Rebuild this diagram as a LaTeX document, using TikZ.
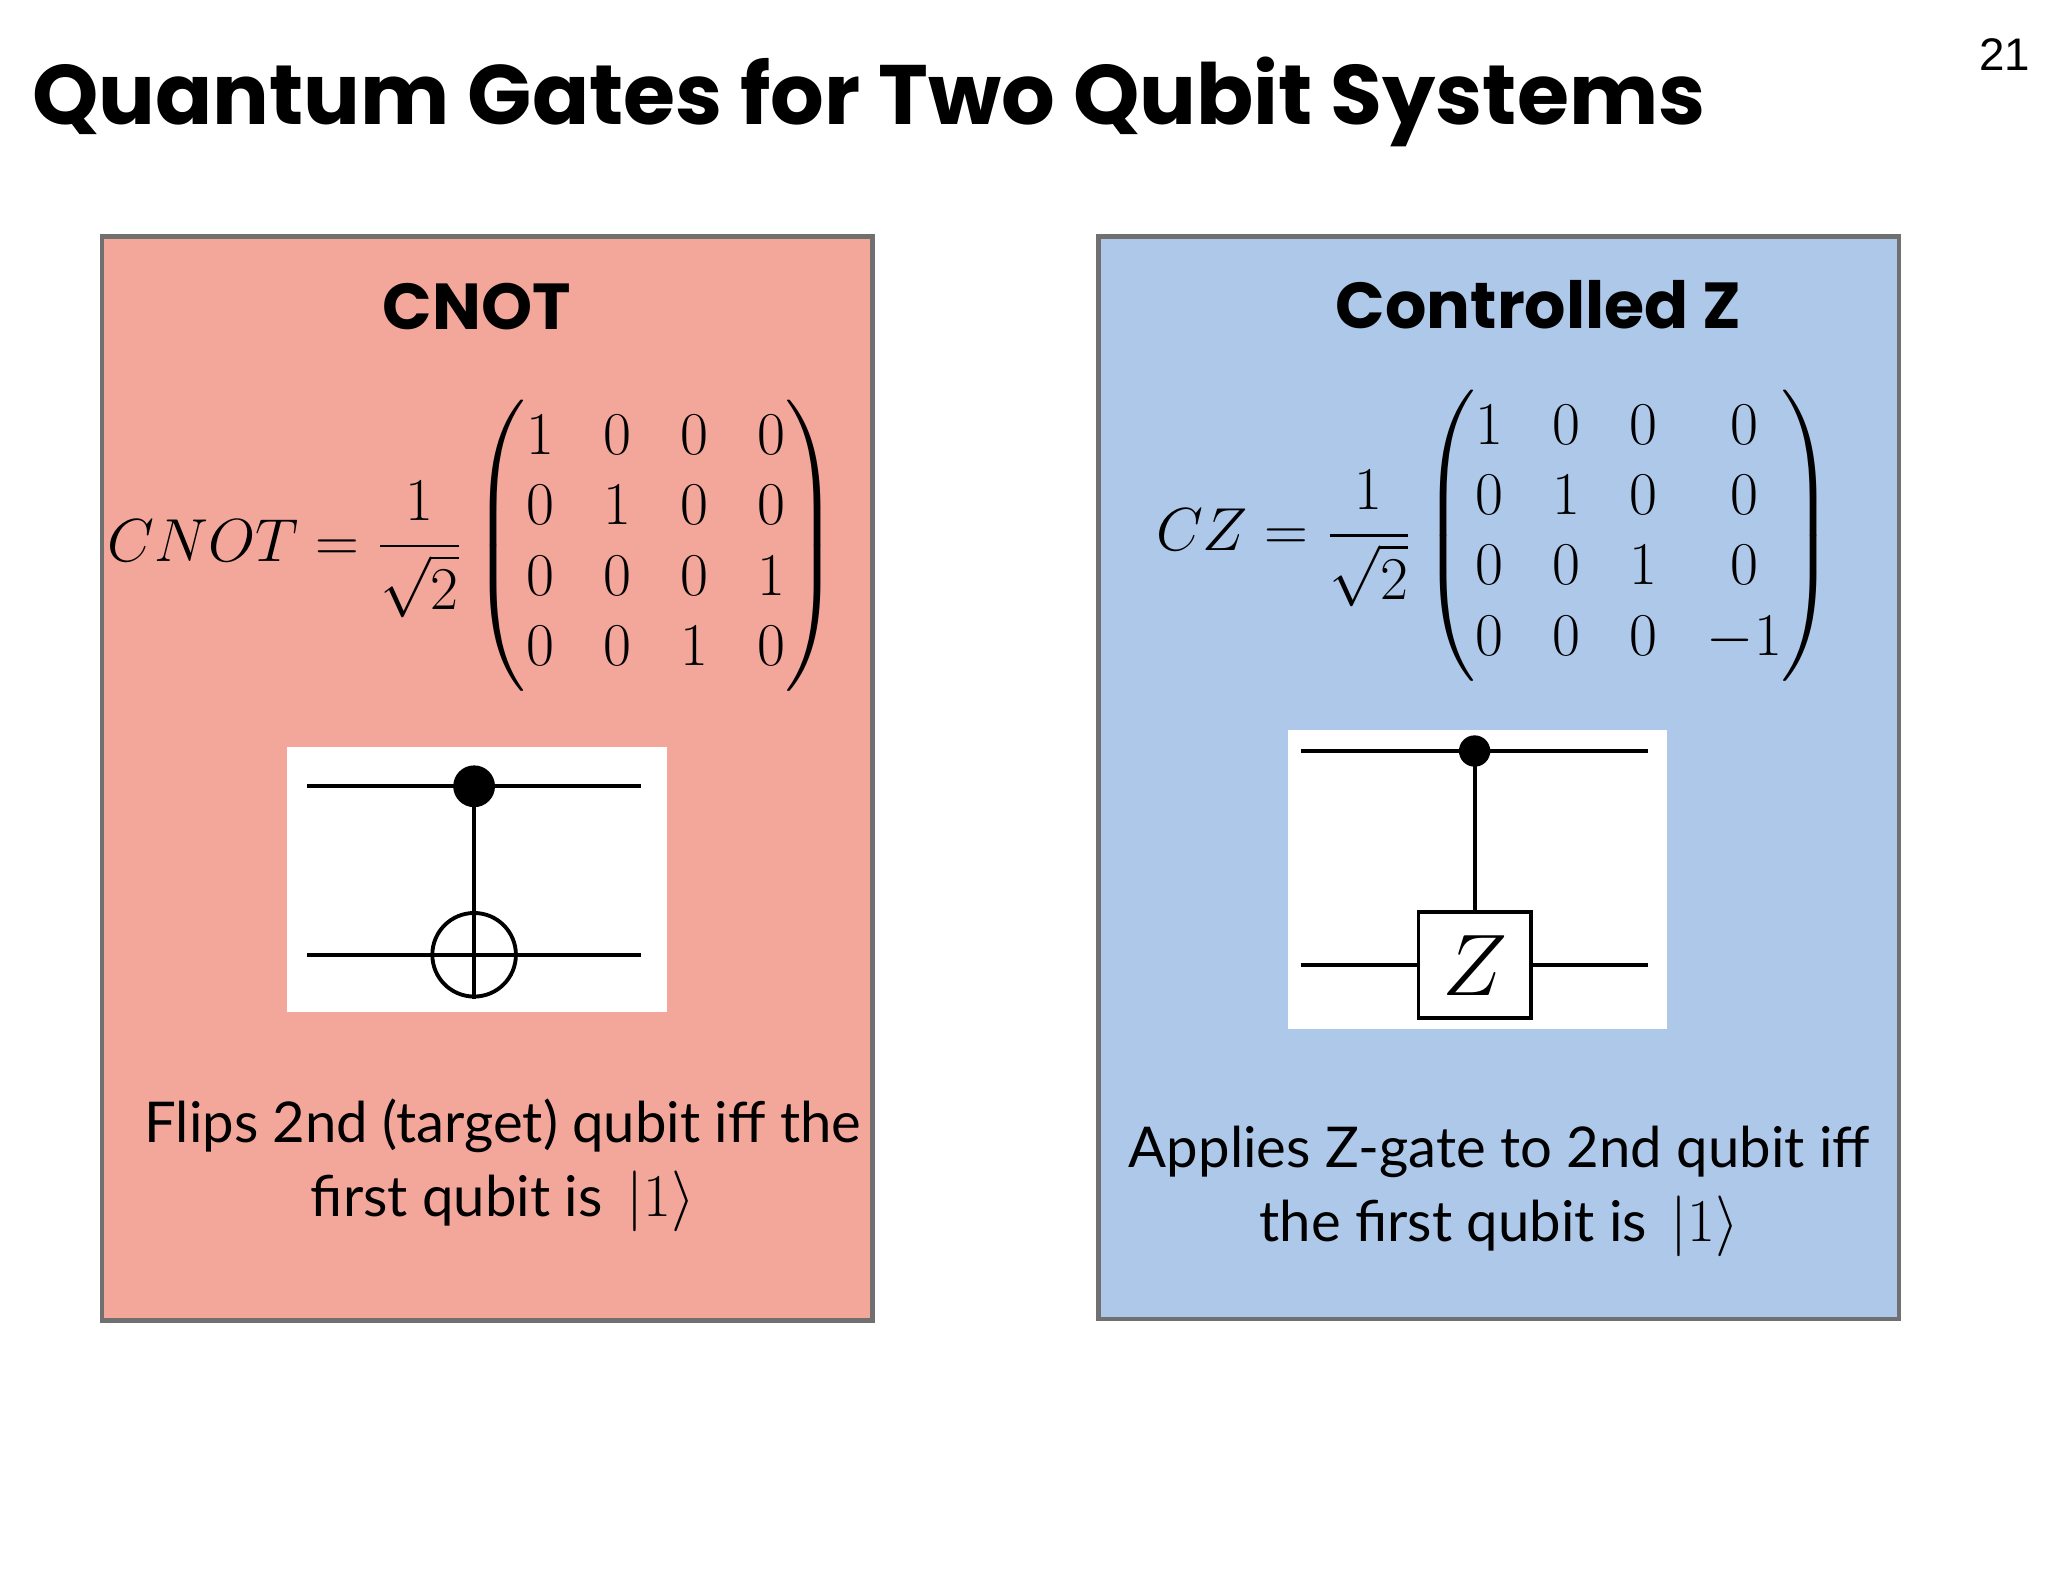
\documentclass[tikz,border=0pt]{standalone}
\usepackage{amsmath}
\usepackage{fontspec}
\setmainfont{Lato}
\newfontfamily\heavy{Poppins}[UprightFont=* Bold]
\newfontfamily\plainsans{Liberation Sans}
\definecolor{pinkbg}{HTML}{F2A79A}
\definecolor{bluebg}{HTML}{ADC8E9}
\definecolor{edge}{HTML}{707070}
\begin{document}
\begin{tikzpicture}[x=0.01306cm,y=-0.01306cm,
  panel/.style={draw=edge,line width=1.2pt},
  wire/.style={line width=1.1pt},
  body/.style={font=\fontsize{16}{21}\selectfont,align=center},
  eq/.style={font=\fontsize{16}{20}\selectfont}]
\useasboundingbox[fill=white] (0,0) rectangle (1568,1211);
\node[anchor=west,font=\heavy\fontsize{24}{30}\selectfont] (title) at (15,78) {Quantum Gates for Two Qubit Systems};
\node[font=\plainsans\fontsize{13}{15}\selectfont] (num) at (1535,42) {21};
% panels
\draw[panel,fill=pinkbg] (78,181) rectangle (668,1011);
\draw[panel,fill=bluebg] (841,181) rectangle (1454,1010);
\node[font=\heavy\fontsize{18.5}{22}\selectfont] (t1) at (365,235) {CNOT};
\node[font=\heavy\fontsize{18.5}{22}\selectfont] (t2) at (1178,233) {Controlled Z};
\node[eq] (m1) at (362,418) {\setlength{\arraycolsep}{7pt}$CNOT=\dfrac{1}{\sqrt2}\begin{pmatrix}1&0&0&0\\0&1&0&0\\0&0&0&1\\0&0&1&0\end{pmatrix}$};
\node[eq] (m2) at (1145,410) {\setlength{\arraycolsep}{7pt}$CZ=\dfrac{1}{\sqrt2}\begin{pmatrix}1&0&0&0\\0&1&0&0\\0&0&1&0\\0&0&0&-1\end{pmatrix}$};
% CNOT circuit
\fill[white] (220,572) rectangle (511,775);
\coordinate (a1) at (235,602); \coordinate (a2) at (491,602);
\coordinate (b1) at (235,731); \coordinate (b2) at (491,731);
\node[circle,fill=black,inner sep=0,minimum size=32*0.01306cm] (ctl1) at (363,602) {};
\node[circle,draw,wire,inner sep=0,minimum size=64*0.01306cm] (tg) at (363,731) {};
\draw[wire] (a1) -- (a2); \draw[wire] (b1) -- (b2);
\draw[wire] (ctl1.center) -- (tg.south);
\draw[wire] (tg.west) -- (tg.east);
% CZ circuit
\fill[white] (986,559) rectangle (1276,788);
\coordinate (c1) at (996,575); \coordinate (c2) at (1262,575);
\coordinate (d1) at (996,739); \coordinate (d2) at (1262,739);
\node[circle,fill=black,inner sep=0,minimum size=24*0.01306cm] (ctl2) at (1129,575) {};
\node[draw,wire,fill=white,minimum width=86*0.01306cm,minimum height=81*0.01306cm,font=\fontsize{24}{28}\selectfont] (zg) at (1129,739) {$Z$};
\draw[wire] (c1) -- (c2);
\draw[wire] (d1) -- (zg.west); \draw[wire] (zg.east) -- (d2);
\draw[wire] (ctl2.center) -- (zg.north);
% texts
\node[body] (x1) at (385,892) {Flips 2nd (target) qubit iff the\\first qubit is \,$|1\rangle$};
\node[body] (x2) at (1148,912) {Applies Z-gate to 2nd qubit iff\\the first qubit is \,$|1\rangle$};
\end{tikzpicture}
\end{document}
